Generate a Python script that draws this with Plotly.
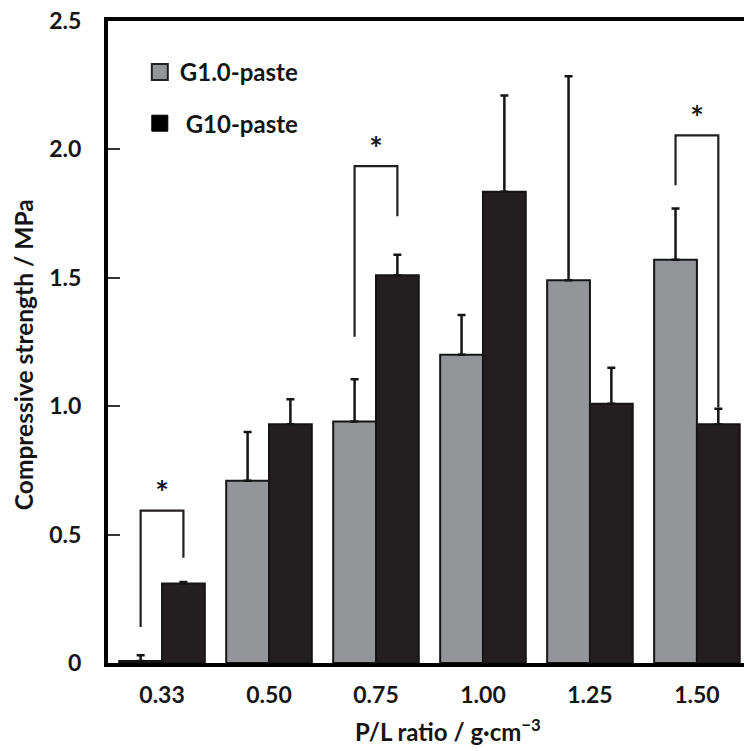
import plotly.graph_objects as go

categories = ["0.33", "0.50", "0.75", "1.00", "1.25", "1.50"]
g1_mean = [0.008, 0.71, 0.94, 1.20, 1.49, 1.57]
g1_err = [0.022, 0.19, 0.165, 0.155, 0.795, 0.20]
g10_mean = [0.31, 0.93, 1.51, 1.835, 1.01, 0.93]
g10_err = [0.005, 0.097, 0.08, 0.375, 0.14, 0.06]

# significance brackets: category index, left-bottom, top, right-bottom, star height
sig_idx = [0, 2, 5]
sig_left = [0.14, 1.27, 1.86]
sig_top = [0.593, 1.935, 2.055]
sig_right = [0.41, 1.74, 0.995]
sig_star = [0.645, 1.985, 2.105]

ytick_vals = [0, 0.5, 1.0, 1.5, 2.0, 2.5]
ytick_text = ["0", "0.5", "1.0", "1.5", "2.0", "2.5"]

GRAY = "#939598"
BLACK = "#231f20"
LINE = "#151515"
FONT = "Lato"

xs = list(range(len(categories)))

fig = go.Figure()
fig.add_trace(go.Bar(
    x=xs, y=g1_mean, name="G1.0-paste", showlegend=False,
    marker=dict(color=GRAY, line=dict(color=LINE, width=2)),
    error_y=dict(type="data", symmetric=False, array=g1_err,
                 arrayminus=[0] * len(g1_err), thickness=2.5, width=4, color=LINE),
))
fig.add_trace(go.Bar(
    x=xs, y=g10_mean, name="G10-paste", showlegend=False,
    marker=dict(color=BLACK, line=dict(color=LINE, width=2)),
    error_y=dict(type="data", symmetric=False, array=g10_err,
                 arrayminus=[0] * len(g10_err), thickness=2.5, width=4, color=LINE),
))

half = 0.2
for i, lb, tp, rb, st in zip(sig_idx, sig_left, sig_top, sig_right, sig_star):
    fig.add_trace(go.Scatter(
        x=[i - half, i - half, i + half, i + half], y=[lb, tp, tp, rb],
        mode="lines", line=dict(color=BLACK, width=2.2), showlegend=False,
        hoverinfo="skip",
    ))
    fig.add_trace(go.Scatter(
        x=[i], y=[st], mode="text", text=["*"], showlegend=False,
        textfont=dict(family=FONT, size=32, color=LINE, weight="bold"),
        hoverinfo="skip",
    ))

# legend entries
fig.add_trace(go.Scatter(
    x=[None], y=[None], mode="markers", name="G1.0-paste", legendgroup="a",
    marker=dict(symbol="square", size=20, color=GRAY, line=dict(color="#222222", width=2)),
))
fig.add_trace(go.Scatter(
    x=[None], y=[None], mode="markers", name=" G10-paste", legendgroup="b",
    marker=dict(symbol="square", size=20, color="#000000", line=dict(color="#000000", width=1)),
))

fig.update_layout(
    width=744, height=751,
    margin=dict(l=108, r=0, t=20.5, b=87.7),
    plot_bgcolor="white", paper_bgcolor="white",
    barmode="group", bargap=0.2, bargroupgap=0,
    font=dict(family=FONT, color=LINE, weight="bold"),
    showlegend=True,
    legend=dict(x=0.05, y=0.955, xanchor="left", yanchor="top",
                font=dict(family=FONT, size=24, color=LINE, weight="bold"),
                tracegroupgap=17, bgcolor="rgba(0,0,0,0)", itemsizing="trace"),
    xaxis=dict(
        range=[-0.505, 5.44], tickmode="array", tickvals=xs, ticktext=categories,
        showgrid=False, zeroline=False, showline=True, linecolor="#000000", linewidth=4,
        mirror=True, ticks="", ticklabelstandoff=8,
        tickfont=dict(family=FONT, size=23, color=LINE, weight="bold"),
    ),
    yaxis=dict(
        range=[0, 2.5], tickmode="array", tickvals=ytick_vals, ticktext=ytick_text,
        showgrid=False, zeroline=False, showline=True, linecolor="#000000", linewidth=4,
        ticks="inside", ticklen=12, tickwidth=1.5, tickcolor="#333333",
        ticklabelstandoff=18,
        tickfont=dict(family=FONT, size=23, color=LINE, weight="bold"),
    ),
    annotations=[
        dict(text="Compressive strength / MPa", textangle=-90, showarrow=False,
             xref="paper", yref="paper", x=-0.1336, y=0.4796,
             xanchor="center", yanchor="middle",
             font=dict(family=FONT, size=24.5, color=LINE, weight="bold")),
        dict(text="P/L ratio / g·cm<sup>−3</sup>", showarrow=False,
             xref="paper", yref="paper", x=0.535, y=-0.1038,
             xanchor="center", yanchor="middle",
             font=dict(family=FONT, size=24, color=LINE, weight="bold")),
    ],
)

fig.write_html("out.html")
